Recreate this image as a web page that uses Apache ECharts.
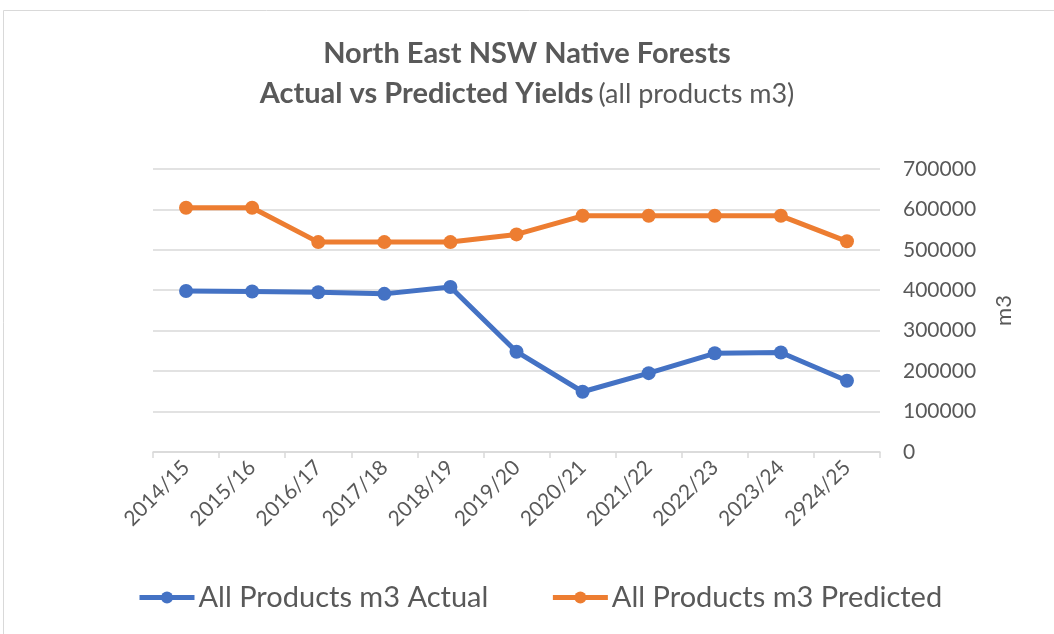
<!DOCTYPE html>
<html><head><meta charset="utf-8">
<script src="https://cdn.jsdelivr.net/npm/echarts@6/dist/echarts.min.js"></script>
<style>html,body{margin:0;padding:0;background:#fff}#c{width:1054px;height:634px}</style>
</head><body><div id="c"></div>
<script>
const categories = ['2014/15','2015/16','2016/17','2017/18','2018/19','2019/20','2020/21','2021/22','2022/23','2023/24','2924/25'];
const actual = [398000, 397000, 395000, 391000, 408000, 248000, 149000, 195000, 244000, 246000, 176000];
const predicted = [604000, 604000, 519000, 519000, 519000, 538000, 584000, 584000, 584000, 584000, 521000];
const yTicks = [0, 100000, 200000, 300000, 400000, 500000, 600000, 700000];

const chart = echarts.init(document.getElementById('c'), null, {renderer:'canvas'});
const gray = '#595959';
const FF = 'Lato, "Open Sans", sans-serif';
chart.setOption({
  animation: false,
  backgroundColor: '#fff',
  graphic: [{type:'rect', shape:{x:3.5,y:10.5,width:1060,height:640}, style:{fill:'none', stroke:'#d9d9d9', lineWidth:1}, silent:true}],
  title: {
    left: 'center', top: 29,
    text: '{b|North East NSW Native Forests}\n{b|Actual vs Predicted Yields} {n|(all products m3)}',
    textStyle: {
      rich: {
        b: {fontFamily:FF, fontWeight:'bold', fontSize:29, color:gray, lineHeight:40},
        n: {fontFamily:FF, fontWeight:'normal', fontSize:27, color:gray, lineHeight:40}
      }
    }
  },
  legend: {
    bottom: 17, left: 132,
    itemWidth: 55, itemHeight: 15, itemGap: 62,
    lineStyle: {width: 5},
    textStyle: {fontFamily:FF, fontSize:29, color:gray, padding:[0,0,0,-1]},
    data: ['All Products m3 Actual','All Products m3 Predicted']
  },
  grid: {left:153, right:174, top:168.9, bottom:182},
  xAxis: {
    type:'category', data: categories, boundaryGap: true,
    axisLine:{lineStyle:{color:'#d9d9d9', width:1.5}},
    axisTick:{show:true, length:6, lineStyle:{color:'#d9d9d9', width:1.5}},
    axisLabel:{rotate:45, color:gray, fontSize:21, fontFamily:FF, margin:12}
  },
  yAxis: {
    type:'value', position:'right', min:0, max:700000, interval:100000,
    name:'m3', nameLocation:'middle', nameGap:113, nameRotate:90,
    nameTextStyle:{color:gray, fontSize:22, fontFamily:FF},
    axisLine:{show:false}, axisTick:{show:false},
    splitLine:{lineStyle:{color:'#d9d9d9', width:1.5}},
    axisLabel:{color:gray, fontSize:21, fontFamily:FF, margin:23, align:'left',
      formatter: v => yTicks.includes(v) ? String(v) : ''}
  },
  series: [
    {name:'All Products m3 Actual', type:'line', data: actual, symbol:'circle', symbolSize:14,
     lineStyle:{color:'#4472C4', width:5}, itemStyle:{color:'#4472C4'}},
    {name:'All Products m3 Predicted', type:'line', data: predicted, symbol:'circle', symbolSize:14,
     lineStyle:{color:'#ED7D31', width:5}, itemStyle:{color:'#ED7D31'}}
  ]
});
</script></body></html>
